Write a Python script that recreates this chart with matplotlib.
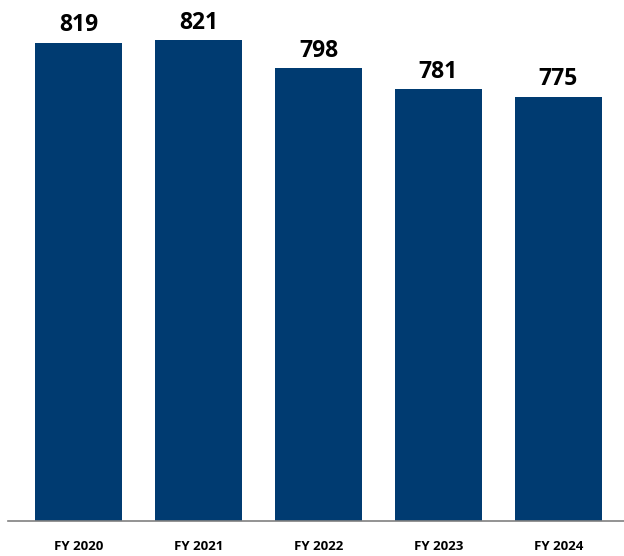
import matplotlib
matplotlib.use("Agg")
import matplotlib.pyplot as plt

years = ["FY 2020", "FY 2021", "FY 2022", "FY 2023", "FY 2024"]
values = [819, 821, 798, 781, 775]

bar_color = "#003B71"

fig = plt.figure(figsize=(6.24, 5.56), dpi=100)
ax = fig.add_axes([8 / 624, 35 / 556, 616 / 624, 521 / 556])

x = range(len(years))
bars = ax.bar(x, values, width=0.725, color=bar_color, zorder=2)

for xi, v in zip(x, values):
    ax.annotate(f"{v}", (xi, v), xytext=(0, 4), textcoords="offset points",
                ha="center", va="bottom", fontsize=16.5, fontweight="bold",
                family="Open Sans", color="black")

ax.set_xlim(-0.5875, 4.546)
ax.set_ylim(428, 854)
ax.set_xticks(list(x))
ax.set_xticklabels(years, fontsize=9.5, fontweight="bold", family="Open Sans")
ax.tick_params(axis="x", length=0, pad=14)
ax.set_yticks([])

for side in ["top", "right", "left"]:
    ax.spines[side].set_visible(False)
ax.spines["bottom"].set_color("#808080")
ax.spines["bottom"].set_linewidth(1.2)

fig.savefig("out.png", dpi=100)
